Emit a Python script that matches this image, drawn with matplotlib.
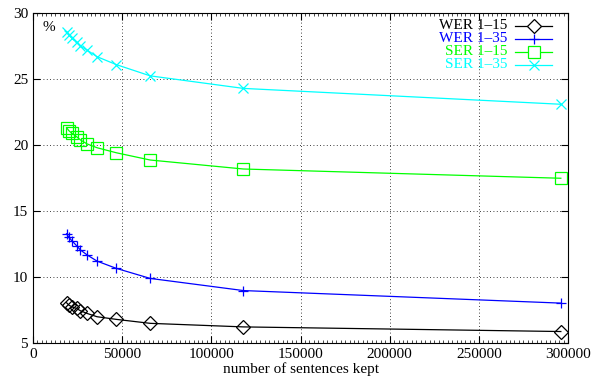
import matplotlib
matplotlib.use('Agg')
import matplotlib.pyplot as plt
import matplotlib.ticker as mticker
from matplotlib.lines import Line2D

plt.rcParams.update({
    'font.family': 'Liberation Serif',
    'font.size': 11,
})

# number of sentences kept
sentences = [18800, 20100, 21800, 24400, 26600, 30300, 35900, 46700, 65700, 118000, 296000]

wer_15 = [8.08, 7.9, 7.77, 7.65, 7.47, 7.27, 7.02, 6.82, 6.52, 6.25, 5.9]
wer_35 = [13.3, 13.03, 12.77, 12.4, 12.07, 11.7, 11.23, 10.68, 9.92, 9.0, 8.05]
ser_15 = [21.33, 21.1, 20.9, 20.65, 20.4, 20.1, 19.81, 19.43, 18.88, 18.2, 17.5]
ser_35 = [28.6, 28.35, 28.1, 27.8, 27.5, 27.2, 26.7, 26.1, 25.25, 24.3, 23.1]

series = [
    ('WER 1\u201315', wer_15, 'black', 'D', 7),
    ('WER 1\u201335', wer_35, '#0000ff', '+', 7),
    ('SER 1\u201315', ser_15, '#00ff00', 's', 8),
    ('SER 1\u201335', ser_35, '#00ffff', 'x', 7),
]

fig = plt.figure(figsize=(5.94, 3.85), dpi=100)
ax = fig.add_axes([0.0556, 0.108, 0.9006, 0.858])

for label, ys, color, marker, ms in series:
    ax.plot(sentences, ys, color=color, lw=0.9, marker=marker, ms=ms,
            mfc='none', mec=color, mew=0.9)

ax.set_xlim(0, 300000)
ax.set_ylim(5, 30)
ax.xaxis.set_major_locator(mticker.MultipleLocator(50000))
ax.xaxis.set_minor_locator(mticker.MultipleLocator(2500))
ax.yaxis.set_major_locator(mticker.MultipleLocator(5))
ax.tick_params(which='both', direction='in', top=True, right=True, labelsize=11)
ax.tick_params(which='major', length=5, width=0.8)
ax.tick_params(which='minor', length=2.5, width=0.5)
ax.grid(True, which='major', color='black', linestyle=(0, (1, 3)), lw=0.6)
ax.set_xlabel('number of sentences kept', fontsize=11, labelpad=1)
ax.text(0.018, 0.975, '%', transform=ax.transAxes, ha='left', va='top', fontsize=11)

# gnuplot-style legend: right-aligned coloured text, sample line to the right
for i, (label, ys, color, marker, ms) in enumerate(series):
    yy = 0.961 - i * 0.039
    ax.text(0.887, yy, label, transform=ax.transAxes, ha='right', va='center',
            color=color, fontsize=11)
    ax.add_line(Line2D([0.901, 0.971], [yy, yy], transform=ax.transAxes,
                       color=color, lw=0.9))
    ax.add_line(Line2D([0.936], [yy], transform=ax.transAxes, color=color,
                       marker=marker, ms=ms, mfc='white' if marker in 'Ds' else 'none',
                       mec=color, mew=0.9))

fig.savefig('out.png', dpi=100)
